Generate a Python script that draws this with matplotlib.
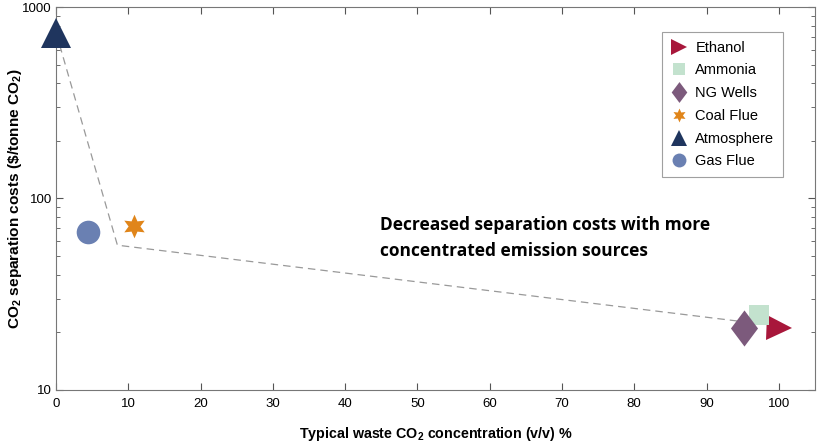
import matplotlib

matplotlib.use("Agg")
import matplotlib.pyplot as plt
from matplotlib.lines import Line2D
from matplotlib.path import Path

# fuentes de emision (x = concentracion CO2 %, y = costo $/t)
SOURCES = ["Ethanol", "Ammonia", "NG Wells", "Coal Flue", "Atmosphere", "Gas Flue"]
CONC = [100, 97.3, 95.2, 10.8, 0.04, 4.4]
COST = [21, 24.7, 21, 72, 730, 67]
COLORS = ["#A8173B", "#C3E2CE", "#7C5A7C", "#E0851A", "#1F355E", "#6A80B2"]

# rombo algo mas alto que ancho, como el de la figura original
DIAMOND = Path([(0, 1), (0.75, 0), (0, -1), (-0.75, 0), (0, 1)],
               [Path.MOVETO, Path.LINETO, Path.LINETO, Path.LINETO, Path.CLOSEPOLY])
MARKERS = [">", "s", DIAMOND, (6, 1, 0), "^", "o"]
SIZES = [18, 15, 26, 17, 21, 17]
LEG_SIZES = [11, 9, 15, 10, 11, 10]

# tendencia aproximada
TREND_X = [0.04, 8.5, 98]
TREND_Y = [730, 57, 22]

plt.rcParams["font.family"] = ["Liberation Sans", "DejaVu Sans"]
plt.rcParams["mathtext.fontset"] = "custom"
plt.rcParams["mathtext.rm"] = "Liberation Sans"
plt.rcParams["mathtext.bf"] = "Liberation Sans:bold"

fig = plt.figure(figsize=(8.17, 4.43), dpi=100)
ax = fig.add_axes([0.0685, 0.12, 0.929, 0.864])

ax.plot(TREND_X, TREND_Y, linestyle=(0, (6, 4)), color="#999999", linewidth=0.9, zorder=1)

for name, x, y, c, m, s in zip(SOURCES, CONC, COST, COLORS, MARKERS, SIZES):
    ax.plot([x], [y], linestyle="none", marker=m, color=c, markersize=s,
            markeredgewidth=0, zorder=3, clip_on=False)

handles = []
for name, c, m, s in zip(SOURCES, COLORS, MARKERS, LEG_SIZES):
    handles.append(Line2D([], [], linestyle="none", marker=m, color=c,
                          markersize=s, markeredgewidth=0, label=name))
leg = ax.legend(handles=handles, loc="upper right", bbox_to_anchor=(0.958, 0.935),
                fontsize=10.5, frameon=True, fancybox=False, edgecolor="#888888",
                borderpad=0.6, labelspacing=0.6, handletextpad=0.5, handlelength=1.2,
                borderaxespad=0)
leg.get_frame().set_linewidth(0.8)

ax.set_yscale("log")
ax.set_xlim(0, 105)
ax.set_ylim(10, 1000)
ax.set_xticks(range(0, 101, 10))
ax.set_yticks([10, 100, 1000])
ax.set_yticklabels(["10", "100", "1000"])
ax.tick_params(which="both", direction="in", top=True, right=True, labelsize=9.5,
               color="#555555")
ax.tick_params(which="major", length=5)
ax.tick_params(which="minor", length=3)
ax.tick_params(axis="x", pad=6)
ax.tick_params(axis="y", pad=3)
for sp in ax.spines.values():
    sp.set_color("#777777")
    sp.set_linewidth(0.8)

ax.set_xlabel(r"Typical waste CO$_\mathbf{2}$ concentration (v/v) %", fontsize=10.3,
              fontweight="bold", labelpad=11)
ax.set_ylabel(r"CO$_\mathbf{2}$ separation costs (\$/tonne CO$_\mathbf{2}$)", fontsize=11.1,
              fontweight="bold", labelpad=-1)

ax.text(44.8, 62, "Decreased separation costs with more\nconcentrated emission sources",
        fontsize=12.5, fontweight="bold", family=["Open Sans", "DejaVu Sans"],
        linespacing=1.55, va="center", ha="left")

fig.savefig("out.png", dpi=100)
